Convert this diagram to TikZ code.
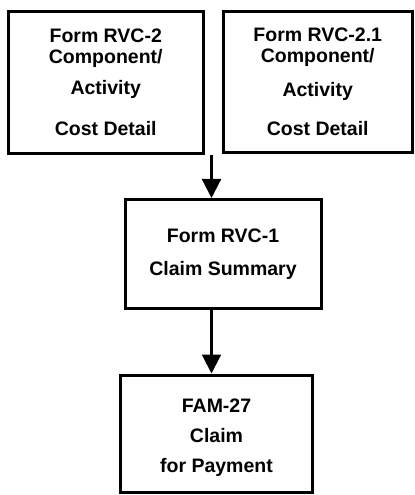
\documentclass[tikz,border=0pt]{standalone}
\usepackage{fontspec}
\setmainfont{Liberation Sans}
\usetikzlibrary{arrows.meta}
\begin{document}
\begin{tikzpicture}[x=1bp,y=-1bp,
  formbox/.style={draw=black, line width=3bp, inner sep=0pt, align=center,
    font=\bfseries\fontsize{19.5bp}{21bp}\selectfont},
  flow/.style={line width=2.2bp, -{Triangle[length=19bp,width=19bp]}}]
\useasboundingbox[fill=white] (0,0) rectangle (414,495);
\node[formbox, minimum width=194.5bp, minimum height=142bp] (rvc2) at (105.75,82.5)
  {Form RVC-2\\Component/\\[10bp]Activity\\[20bp]Cost Detail};
\node[formbox, minimum width=189.5bp, minimum height=140.5bp] (rvc21) at (317.75,81.75)
  {Form RVC-2.1\\Component/\\[13bp]Activity\\[18bp]Cost Detail};
\node[formbox, minimum width=196bp, minimum height=108.5bp] (rvc1) at (223,253.75)
  {Form RVC-1\\[12bp]Claim Summary};
\node[formbox, minimum width=192bp, minimum height=117bp] (fam) at (216.5,433.5)
  {\rule{0pt}{22bp}FAM-27\\[9bp]Claim\\[9bp]for Payment};
\coordinate (a1) at (211.5,155);
\draw[flow] (a1) -- (a1 |- rvc1.north);
\draw[flow] (rvc1.south -| a1) -- (fam.north -| a1);
\end{tikzpicture}
\end{document}
